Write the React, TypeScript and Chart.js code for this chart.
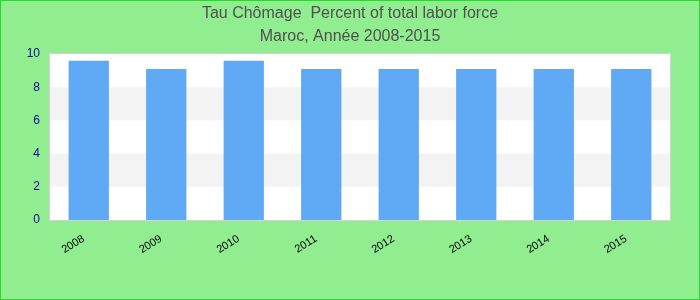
import React, { useEffect, useRef } from "react";
import { Chart, registerables } from "chart.js";

Chart.register(...registerables);

const categories = ["2008", "2009", "2010", "2011", "2012", "2013", "2014", "2015"];
const values = [9.6, 9.1, 9.6, 9.1, 9.1, 9.1, 9.1, 9.1];
const titleLines = ["Tau Chômage  Percent of total labor force", "Maroc, Année 2008-2015"];

const bandsPlugin = {
  id: "bands",
  beforeDatasetsDraw(chart: any) {
    const { ctx, chartArea, scales } = chart;
    const y = scales.y;
    const ticks = y.ticks;
    ctx.save();
    ctx.fillStyle = "#ffffff";
    ctx.fillRect(chartArea.left, chartArea.top, chartArea.right - chartArea.left, chartArea.bottom - chartArea.top);
    for (let i = 0; i < ticks.length - 1; i++) {
      if (i % 2 === 1) {
        const y0 = y.getPixelForValue(ticks[i].value);
        const y1 = y.getPixelForValue(ticks[i + 1].value);
        ctx.fillStyle = "#f3f3f3";
        ctx.fillRect(chartArea.left, y1, chartArea.right - chartArea.left, y0 - y1);
      }
    }
    ctx.strokeStyle = "#d4d4d4";
    ctx.lineWidth = 1;
    ctx.strokeRect(
      Math.round(chartArea.left) - 0.5,
      Math.round(chartArea.top) - 0.5,
      Math.round(chartArea.right - chartArea.left) + 1,
      Math.round(chartArea.bottom - chartArea.top) + 1
    );
    ctx.restore();
  },
};

export default function App() {
  const ref = useRef<HTMLCanvasElement>(null);
  useEffect(() => {
    document.body.style.margin = "0";
    const chart = new Chart(ref.current!, {
      type: "bar",
      data: {
        labels: categories,
        datasets: [
          {
            data: values,
            backgroundColor: "#60a9f5",
            borderWidth: 0,
            categoryPercentage: 1,
            barPercentage: 0.52,
            yAxisID: "y",
          },
        ],
      },
      plugins: [bandsPlugin],
      options: {
        animation: false,
        responsive: false,
        layout: { padding: 0 },
        plugins: {
          legend: { display: false },
          tooltip: { enabled: false },
          title: {
            display: true,
            text: titleLines,
            color: "#505050",
            font: { family: "Liberation Sans, Arial, sans-serif", size: 16, weight: "normal", lineHeight: 1.44 },
            padding: { top: 1, bottom: 6 },
          },
        },
        scales: {
          x: {
            grid: { display: false, drawTicks: false },
            border: { display: false },
            ticks: {
              color: "#000000",
              font: { family: "Liberation Sans, Arial, sans-serif", size: 11 },
              minRotation: 32,
              maxRotation: 32,
              padding: 9,
              callback(_v: any, i: number) {
                return categories[i] + "  ";
              },
            },
            afterFit(scale: any) {
              scale.height = 79;
            },
          },
          y: {
            min: 0,
            max: 10,
            grid: { display: false, drawTicks: false },
            border: { display: false },
            ticks: {
              stepSize: 2,
              color: "#0a0a8f",
              font: { family: "Liberation Sans, Arial, sans-serif", size: 12 },
              padding: 10,
            },
            afterFit(scale: any) {
              scale.width = 49;
            },
          },
          yRight: {
            type: "linear",
            position: "right",
            min: 0,
            max: 10,
            grid: { display: false, drawTicks: false },
            border: { display: false },
            ticks: { display: false },
            afterFit(scale: any) {
              scale.width = 29;
            },
          },
        },
      },
    });
    return () => chart.destroy();
  }, []);
  return (
    <div
      style={{
        position: "absolute",
        left: 0,
        top: 0,
        width: 700,
        height: 300,
        boxSizing: "border-box",
        border: "1px solid #22dd22",
        background: "#90ee90",
      }}
    >
      <canvas ref={ref} width={698} height={298} style={{ display: "block" }} />
    </div>
  );
}
